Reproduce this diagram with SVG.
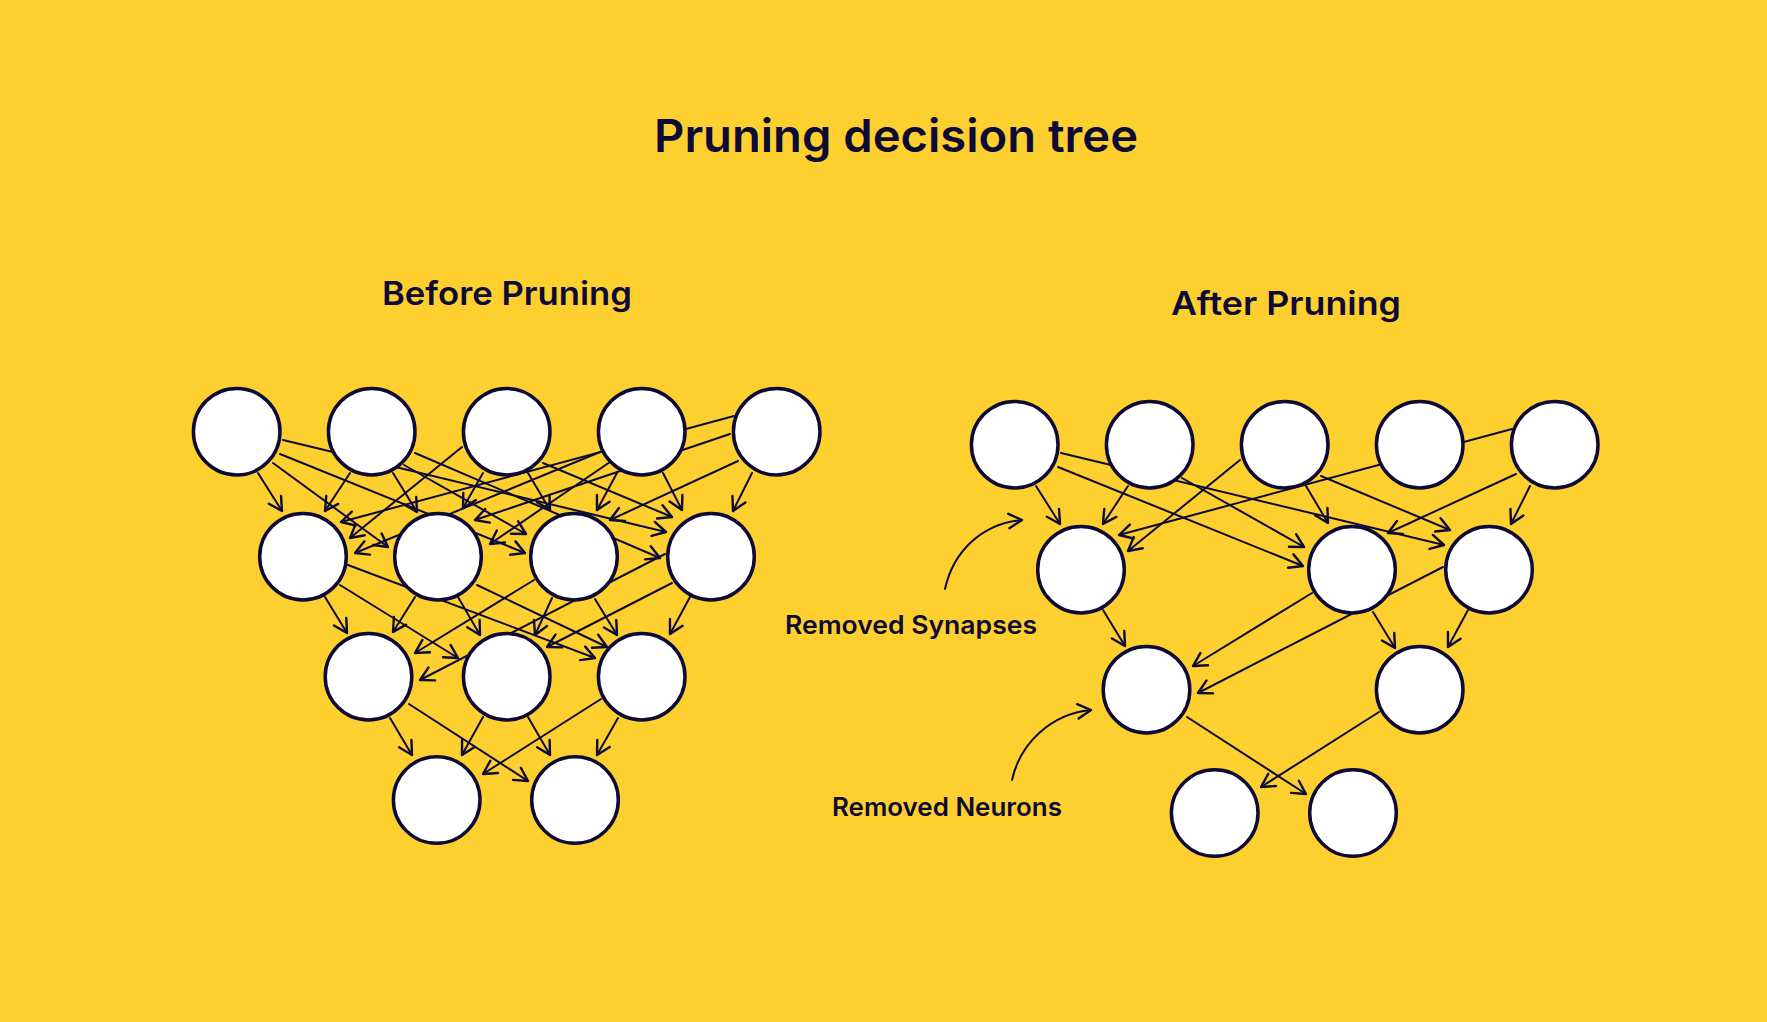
<svg xmlns="http://www.w3.org/2000/svg" width="1767" height="1022" viewBox="0 0 1767 1022">
  <defs>
    <marker id="ah" markerUnits="userSpaceOnUse" markerWidth="24" markerHeight="24" viewBox="-14 -10 16 20" refX="0" refY="0" orient="auto" overflow="visible">
      <path d="M -11 -6 L 0 0 L -11 6" fill="none" stroke="#0d0b36" stroke-width="2" stroke-linecap="round" stroke-linejoin="round"/>
    </marker>
    <style>
      .bg { fill: #fed02f; }
      .n { fill: #ffffff; stroke: #0d0b36; stroke-width: 3.5; }
      .e { stroke: #0d0b36; stroke-width: 2; fill: none; stroke-linecap: round; marker-end: url(#ah); }
      .t { fill: #0d0b36; font-family: Inter, "Liberation Sans", sans-serif; font-weight: 600; }
    </style>
  </defs>
  <rect class="bg" x="0" y="0" width="1767" height="1022"/>

  <g id="labels">
    <text class="t" x="896" y="152" font-size="45" text-anchor="middle" textLength="484" lengthAdjust="spacingAndGlyphs">Pruning decision tree</text>
    <text class="t" x="507" y="305" font-size="33" text-anchor="middle" textLength="250" lengthAdjust="spacingAndGlyphs">Before Pruning</text>
    <text class="t" x="1286" y="315" font-size="33" text-anchor="middle" textLength="230" lengthAdjust="spacingAndGlyphs">After Pruning</text>
    <text class="t" x="785" y="634" font-size="25" textLength="252" lengthAdjust="spacingAndGlyphs">Removed Synapses</text>
    <text class="t" x="832" y="816" font-size="25" textLength="230" lengthAdjust="spacingAndGlyphs">Removed Neurons</text>
  </g>

  <g id="connectors">
    <g id="before-edges">
      <line class="e" x1="258" y1="473" x2="282" y2="511"/>
      <line class="e" x1="273" y1="463" x2="388" y2="547"/>
      <line class="e" x1="280" y1="454" x2="525" y2="553"/>
      <line class="e" x1="283" y1="440" x2="666" y2="532"/>
      <line class="e" x1="350" y1="473" x2="325" y2="511"/>
      <line class="e" x1="393" y1="473" x2="417" y2="512"/>
      <line class="e" x1="404" y1="465" x2="526" y2="534"/>
      <line class="e" x1="415" y1="453" x2="660" y2="558"/>
      <line class="e" x1="462" y1="447" x2="350" y2="538"/>
      <line class="e" x1="483" y1="473" x2="463" y2="508"/>
      <line class="e" x1="528" y1="473" x2="550" y2="510"/>
      <line class="e" x1="543" y1="463" x2="672" y2="517"/>
      <line class="e" x1="600" y1="452" x2="355" y2="553"/>
      <line class="e" x1="610" y1="462" x2="490" y2="544"/>
      <line class="e" x1="617" y1="473" x2="597" y2="510"/>
      <line class="e" x1="663" y1="473" x2="682" y2="510"/>
      <line class="e" x1="734" y1="416" x2="341" y2="522"/>
      <line class="e" x1="730" y1="434" x2="475" y2="520"/>
      <line class="e" x1="738" y1="461" x2="610" y2="520"/>
      <line class="e" x1="752" y1="473" x2="733" y2="511"/>

      <line class="e" x1="325" y1="597" x2="347" y2="633"/>
      <line class="e" x1="340" y1="585" x2="458" y2="658"/>
      <line class="e" x1="348" y1="565" x2="595" y2="658"/>
      <line class="e" x1="415" y1="597" x2="393" y2="632"/>
      <line class="e" x1="458" y1="597" x2="480" y2="635"/>
      <line class="e" x1="477" y1="585" x2="607" y2="647"/>
      <line class="e" x1="534" y1="580" x2="415" y2="653"/>
      <line class="e" x1="552" y1="598" x2="535" y2="635"/>
      <line class="e" x1="595" y1="599" x2="617" y2="635"/>
      <line class="e" x1="665" y1="554" x2="420" y2="680"/>
      <line class="e" x1="672" y1="583" x2="547" y2="647"/>
      <line class="e" x1="690" y1="597" x2="670" y2="634"/>

      <line class="e" x1="390" y1="718" x2="412" y2="755"/>
      <line class="e" x1="409" y1="704" x2="528" y2="781"/>
      <line class="e" x1="483" y1="717" x2="462" y2="755"/>
      <line class="e" x1="528" y1="717" x2="550" y2="755"/>
      <line class="e" x1="601" y1="699" x2="483" y2="774"/>
      <line class="e" x1="618" y1="718" x2="597" y2="755"/>
    </g>
    <g id="after-edges" transform="translate(778 13)">
      <line class="e" x1="258" y1="473" x2="282" y2="511"/>
      <line class="e" x1="280" y1="454" x2="525" y2="553"/>
      <line class="e" x1="283" y1="440" x2="666" y2="532"/>
      <line class="e" x1="350" y1="473" x2="325" y2="511"/>
      <line class="e" x1="404" y1="465" x2="526" y2="534"/>
      <line class="e" x1="462" y1="447" x2="350" y2="538"/>
      <line class="e" x1="528" y1="473" x2="550" y2="510"/>
      <line class="e" x1="543" y1="463" x2="672" y2="517"/>
      <line class="e" x1="734" y1="416" x2="341" y2="522"/>
      <line class="e" x1="738" y1="461" x2="610" y2="520"/>
      <line class="e" x1="752" y1="473" x2="733" y2="511"/>

      <line class="e" x1="325" y1="597" x2="347" y2="633"/>
      <line class="e" x1="534" y1="580" x2="415" y2="653"/>
      <line class="e" x1="595" y1="599" x2="617" y2="635"/>
      <line class="e" x1="665" y1="554" x2="420" y2="680"/>
      <line class="e" x1="690" y1="597" x2="670" y2="634"/>

      <line class="e" x1="409" y1="704" x2="528" y2="781"/>
      <line class="e" x1="601" y1="699" x2="483" y2="774"/>
    </g>
    <g id="callouts">
      <path class="e" d="M 945 589 C 953 552, 982 523, 1022 520"/>
      <path class="e" d="M 1012 780 C 1020 744, 1050 714, 1091 710"/>
    </g>
  </g>

  <g id="before-nodes">
    <g id="b-a1"><circle class="n" cx="236.7" cy="431.7" r="43.3"/></g>
    <g id="b-a2"><circle class="n" cx="371.7" cy="431.7" r="43.3"/></g>
    <g id="b-a3"><circle class="n" cx="506.7" cy="431.7" r="43.3"/></g>
    <g id="b-a4"><circle class="n" cx="641.7" cy="431.7" r="43.3"/></g>
    <g id="b-a5"><circle class="n" cx="776.7" cy="431.7" r="43.3"/></g>
    <g id="b-b1"><circle class="n" cx="303" cy="556.7" r="43.3"/></g>
    <g id="b-b2"><circle class="n" cx="438" cy="556.7" r="43.3"/></g>
    <g id="b-b3"><circle class="n" cx="574" cy="556.7" r="43.3"/></g>
    <g id="b-b4"><circle class="n" cx="711" cy="556.7" r="43.3"/></g>
    <g id="b-c1"><circle class="n" cx="368.5" cy="676.7" r="43.3"/></g>
    <g id="b-c2"><circle class="n" cx="506.7" cy="676.7" r="43.3"/></g>
    <g id="b-c3"><circle class="n" cx="641.7" cy="676.7" r="43.3"/></g>
    <g id="b-d1"><circle class="n" cx="436.7" cy="800" r="43.3"/></g>
    <g id="b-d2"><circle class="n" cx="575" cy="800" r="43.3"/></g>
  </g>

  <g id="after-nodes" transform="translate(778 13)">
    <g id="a-a1"><circle class="n" cx="236.7" cy="431.7" r="43.3"/></g>
    <g id="a-a2"><circle class="n" cx="371.7" cy="431.7" r="43.3"/></g>
    <g id="a-a3"><circle class="n" cx="506.7" cy="431.7" r="43.3"/></g>
    <g id="a-a4"><circle class="n" cx="641.7" cy="431.7" r="43.3"/></g>
    <g id="a-a5"><circle class="n" cx="776.7" cy="431.7" r="43.3"/></g>
    <g id="a-b1"><circle class="n" cx="303" cy="556.7" r="43.3"/></g>
    <g id="a-b3"><circle class="n" cx="574" cy="556.7" r="43.3"/></g>
    <g id="a-b4"><circle class="n" cx="711" cy="556.7" r="43.3"/></g>
    <g id="a-c1"><circle class="n" cx="368.5" cy="676.7" r="43.3"/></g>
    <g id="a-c3"><circle class="n" cx="641.7" cy="676.7" r="43.3"/></g>
    <g id="a-d1"><circle class="n" cx="436.7" cy="800" r="43.3"/></g>
    <g id="a-d2"><circle class="n" cx="575" cy="800" r="43.3"/></g>
  </g>
</svg>
